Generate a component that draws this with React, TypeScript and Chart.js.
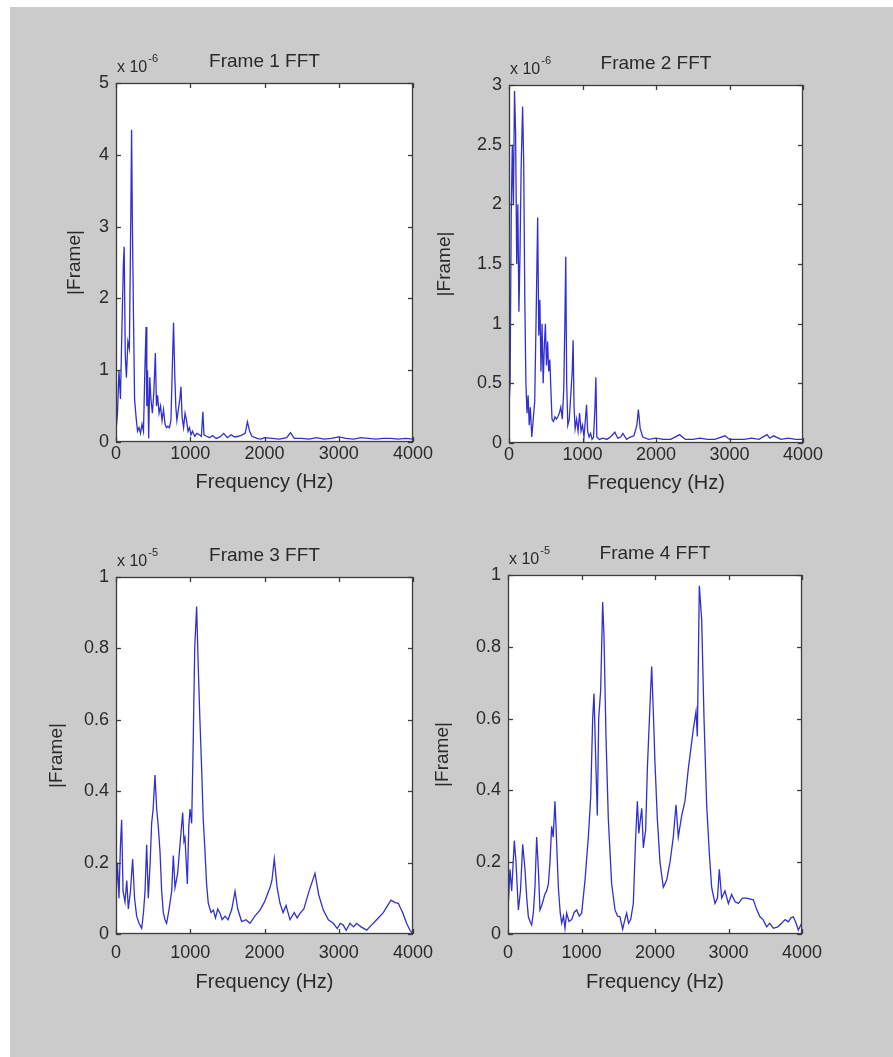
import React, { useEffect, useRef } from 'react';
import { Chart, registerables } from 'chart.js';

Chart.register(...registerables);

// ---------- data ----------
const frequencyTicks = [0, 1000, 2000, 3000, 4000];
const panelTitles = ['Frame 1 FFT', 'Frame 2 FFT', 'Frame 3 FFT', 'Frame 4 FFT'];
const panelExponents = ['-6', '-6', '-5', '-5'];
const yMaxes = [5, 3, 1, 1];
const yStepSizes = [1, 0.5, 0.2, 0.2];

const frame1Hz = [0, 20, 40, 60, 80, 100, 110, 125, 140, 160, 180, 200, 210, 220, 235, 250, 270, 290, 310, 330, 350, 370, 390, 405, 415, 425, 440, 455, 470, 490, 510, 530, 545, 560, 580, 600, 620, 640, 660, 680, 700, 720, 740, 760, 775, 790, 805, 820, 840, 860, 875, 890, 910, 930, 950, 970, 990, 1010, 1030, 1060, 1090, 1120, 1150, 1170, 1185, 1220, 1260, 1300, 1350, 1400, 1450, 1500, 1550, 1600, 1650, 1700, 1740, 1770, 1800, 1830, 1900, 1950, 2000, 2100, 2200, 2300, 2350, 2400, 2500, 2600, 2700, 2800, 2900, 3000, 3100, 3200, 3300, 3400, 3500, 3600, 3700, 3800, 3900, 4000];
const frame1Mag = [0.15, 0.4, 1.0, 0.6, 1.6, 2.5, 2.72, 1.2, 0.9, 1.4, 1.3, 3.2, 4.35, 3.1, 1.8, 0.6, 0.35, 0.15, 0.2, 0.12, 0.25, 0.15, 1.05, 1.6, 0.5, 1.0, 0.05, 0.9, 0.6, 0.4, 0.7, 1.24, 0.5, 0.65, 0.4, 0.5, 0.3, 0.45, 0.25, 0.2, 0.22, 0.2, 0.3, 1.1, 1.66, 1.0, 0.5, 0.3, 0.45, 0.6, 0.77, 0.35, 0.2, 0.4, 0.3, 0.15, 0.2, 0.1, 0.15, 0.08, 0.12, 0.1, 0.08, 0.42, 0.1, 0.08, 0.06, 0.09, 0.05, 0.07, 0.12, 0.06, 0.1, 0.07, 0.08, 0.1, 0.12, 0.28, 0.15, 0.08, 0.05, 0.04, 0.06, 0.05, 0.04, 0.06, 0.13, 0.05, 0.05, 0.04, 0.06, 0.04, 0.05, 0.07, 0.05, 0.04, 0.06, 0.05, 0.04, 0.05, 0.05, 0.04, 0.05, 0.04];

const frame2Hz = [0, 15, 30, 45, 60, 75, 90, 105, 120, 135, 150, 165, 185, 200, 215, 230, 245, 260, 275, 290, 310, 330, 350, 370, 390, 405, 420, 435, 450, 465, 480, 495, 510, 525, 540, 555, 570, 585, 605, 625, 645, 665, 685, 705, 725, 745, 760, 772, 785, 800, 820, 840, 860, 872, 885, 900, 920, 940, 960, 980, 1000, 1020, 1040, 1055, 1070, 1090, 1110, 1130, 1150, 1170, 1182, 1195, 1230, 1280, 1330, 1380, 1440, 1480, 1520, 1550, 1600, 1650, 1700, 1740, 1760, 1785, 1820, 1900, 2000, 2100, 2200, 2320, 2400, 2500, 2600, 2700, 2800, 2940, 3000, 3100, 3200, 3300, 3400, 3510, 3550, 3600, 3700, 3800, 3900, 4000];
const frame2Mag = [0.3, 0.5, 1.9, 2.5, 2.0, 2.95, 2.6, 1.5, 2.0, 1.1, 1.6, 2.3, 2.82, 2.35, 1.2, 0.5, 0.25, 0.4, 0.15, 0.3, 0.05, 0.2, 0.35, 1.1, 1.89, 0.9, 1.2, 0.6, 1.0, 0.5, 0.8, 1.0, 0.65, 0.85, 0.6, 0.7, 0.45, 0.2, 0.18, 0.22, 0.2, 0.22, 0.25, 0.3, 0.2, 0.45, 1.0, 1.56, 0.5, 0.15, 0.2, 0.4, 0.6, 0.86, 0.3, 0.12, 0.2, 0.1, 0.25, 0.1, 0.15, 0.05, 0.2, 0.32, 0.1, 0.05, 0.08, 0.03, 0.05, 0.3, 0.55, 0.05, 0.03, 0.04, 0.03, 0.05, 0.09, 0.04, 0.05, 0.08, 0.03, 0.05, 0.06, 0.15, 0.28, 0.12, 0.05, 0.03, 0.04, 0.03, 0.03, 0.07, 0.03, 0.03, 0.04, 0.03, 0.03, 0.06, 0.03, 0.03, 0.03, 0.04, 0.03, 0.07, 0.04, 0.06, 0.03, 0.04, 0.03, 0.03];

const frame3Hz = [0, 20, 40, 60, 76, 95, 121, 145, 166, 195, 224, 250, 278, 310, 346, 370, 391, 413, 435, 460, 480, 500, 525, 548, 570, 593, 615, 637, 660, 682, 715, 750, 772, 795, 830, 862, 898, 915, 929, 961, 980, 997, 1019, 1041, 1060, 1086, 1109, 1130, 1154, 1175, 1199, 1220, 1243, 1280, 1311, 1340, 1370, 1401, 1430, 1468, 1510, 1560, 1603, 1640, 1692, 1750, 1805, 1870, 1939, 2000, 2074, 2100, 2132, 2170, 2209, 2250, 2290, 2343, 2400, 2440, 2478, 2530, 2600, 2680, 2730, 2792, 2860, 2927, 2980, 3020, 3061, 3100, 3150, 3200, 3241, 3300, 3376, 3440, 3510, 3600, 3660, 3703, 3760, 3802, 3860, 3914, 3960, 4000];
const frame3Mag = [0.1, 0.2, 0.1, 0.25, 0.32, 0.12, 0.09, 0.15, 0.07, 0.12, 0.21, 0.1, 0.05, 0.03, 0.016, 0.06, 0.12, 0.25, 0.1, 0.2, 0.31, 0.35, 0.445, 0.35, 0.3, 0.23, 0.12, 0.06, 0.04, 0.03, 0.07, 0.12, 0.22, 0.13, 0.17, 0.25, 0.34, 0.26, 0.27, 0.14, 0.3, 0.35, 0.31, 0.55, 0.8, 0.917, 0.74, 0.6, 0.46, 0.32, 0.23, 0.14, 0.086, 0.06, 0.067, 0.045, 0.07, 0.058, 0.04, 0.05, 0.04, 0.07, 0.12, 0.07, 0.035, 0.04, 0.03, 0.05, 0.067, 0.09, 0.13, 0.15, 0.21, 0.13, 0.086, 0.06, 0.08, 0.04, 0.06, 0.045, 0.058, 0.07, 0.12, 0.17, 0.11, 0.067, 0.04, 0.03, 0.015, 0.03, 0.025, 0.01, 0.03, 0.02, 0.03, 0.02, 0.011, 0.025, 0.04, 0.06, 0.08, 0.095, 0.088, 0.086, 0.06, 0.03, 0.01, 0.0];

const frame4Hz = [0, 5, 27, 50, 86, 109, 141, 170, 200, 231, 255, 277, 300, 322, 345, 367, 390, 413, 435, 460, 481, 500, 526, 550, 571, 594, 615, 639, 653, 685, 710, 730, 755, 775, 798, 830, 866, 900, 934, 970, 1002, 1048, 1093, 1125, 1152, 1170, 1193, 1215, 1234, 1261, 1288, 1306, 1333, 1365, 1410, 1456, 1490, 1524, 1560, 1590, 1614, 1640, 1669, 1705, 1737, 1760, 1780, 1796, 1820, 1841, 1873, 1896, 1932, 1955, 1977, 2000, 2032, 2068, 2113, 2159, 2204, 2249, 2286, 2317, 2363, 2408, 2453, 2490, 2521, 2558, 2576, 2603, 2635, 2667, 2703, 2739, 2771, 2816, 2850, 2875, 2907, 2952, 2998, 3043, 3090, 3134, 3190, 3247, 3338, 3380, 3428, 3470, 3519, 3560, 3610, 3670, 3723, 3770, 3814, 3850, 3882, 3920, 3950, 3995];
const frame4Mag = [0.08, 0.085, 0.18, 0.12, 0.26, 0.2, 0.067, 0.12, 0.25, 0.18, 0.1, 0.048, 0.035, 0.025, 0.06, 0.13, 0.27, 0.18, 0.067, 0.08, 0.095, 0.11, 0.12, 0.14, 0.2, 0.3, 0.27, 0.37, 0.3, 0.13, 0.06, 0.03, 0.05, 0.016, 0.058, 0.035, 0.04, 0.06, 0.067, 0.05, 0.058, 0.15, 0.27, 0.38, 0.6, 0.67, 0.49, 0.33, 0.6, 0.68, 0.925, 0.83, 0.55, 0.32, 0.14, 0.067, 0.05, 0.048, 0.013, 0.04, 0.058, 0.03, 0.04, 0.085, 0.27, 0.37, 0.28, 0.31, 0.35, 0.24, 0.29, 0.46, 0.64, 0.745, 0.62, 0.475, 0.32, 0.2, 0.13, 0.15, 0.2, 0.27, 0.36, 0.27, 0.33, 0.37, 0.46, 0.52, 0.57, 0.62, 0.55, 0.97, 0.875, 0.6, 0.36, 0.225, 0.13, 0.085, 0.1, 0.18, 0.1, 0.12, 0.085, 0.11, 0.09, 0.085, 0.1, 0.1, 0.095, 0.07, 0.048, 0.04, 0.02, 0.03, 0.016, 0.02, 0.03, 0.04, 0.034, 0.045, 0.048, 0.03, 0.011, 0.03];

const frameHz = [frame1Hz, frame2Hz, frame3Hz, frame4Hz];
const frameMag = [frame1Mag, frame2Mag, frame3Mag, frame4Mag];

// ---------- layout (page pixels of each plot box) ----------
const boxes = [
  { L: 116, T: 83, R: 413, B: 442, ylabelGap: 41, xTickPad: 1, xTitlePad: 18 },
  { L: 509, T: 85, R: 803, B: 443, ylabelGap: 64, xTickPad: 1, xTitlePad: 18 },
  { L: 116, T: 577, R: 413, B: 934, ylabelGap: 59, xTickPad: 8, xTitlePad: 10 },
  { L: 508, T: 575, R: 802, B: 934, ylabelGap: 65, xTickPad: 8, xTitlePad: 10 },
];
const PAD_LEFT = 100;
const PAD_TOP = 50;
const PAD_RIGHT = 45;
const PAD_BOTTOM = 70;
const FONT = '"Liberation Sans", Arial, Helvetica, sans-serif';
const TEXT = '#2a2a2a';
const AXIS = '#3c3c3c';

const matlabAxes = {
  id: 'matlabAxes',
  beforeDatasetsDraw(chart: any) {
    const { ctx, chartArea: a } = chart;
    ctx.save();
    ctx.fillStyle = '#ffffff';
    ctx.fillRect(a.left, a.top, a.right - a.left, a.bottom - a.top);
    ctx.restore();
  },
  afterDatasetsDraw(chart: any, _args: any, opts: any) {
    const { ctx, chartArea: a, scales } = chart;
    const len = 5;
    ctx.save();
    ctx.strokeStyle = AXIS;
    ctx.lineWidth = 1.3;
    const line = (x1: number, y1: number, x2: number, y2: number) => {
      ctx.beginPath();
      ctx.moveTo(x1, y1);
      ctx.lineTo(x2, y2);
      ctx.stroke();
    };
    scales.x.ticks.forEach((t: any) => {
      const p = Math.round(scales.x.getPixelForValue(t.value)) + 0.5;
      line(p, a.bottom, p, a.bottom - len);
      line(p, a.top, p, a.top + len);
    });
    scales.y.ticks.forEach((t: any) => {
      const p = Math.round(scales.y.getPixelForValue(t.value)) + 0.5;
      line(a.left, p, a.left + len, p);
      line(a.right, p, a.right - len, p);
    });
    ctx.strokeRect(a.left + 0.5, a.top + 0.5, a.right - a.left - 1, a.bottom - a.top - 1);

    ctx.fillStyle = TEXT;
    ctx.font = `19px ${FONT}`;
    ctx.textAlign = 'center';
    ctx.textBaseline = 'middle';
    ctx.fillText(opts.title, (a.left + a.right) / 2, a.top - 21);

    ctx.textAlign = 'left';
    ctx.textBaseline = 'alphabetic';
    ctx.font = `16px ${FONT}`;
    ctx.fillText('x 10', a.left + 1, a.top - 11);
    const w = ctx.measureText('x 10').width;
    ctx.font = `11px ${FONT}`;
    ctx.fillText(opts.exponent, a.left + 2 + w, a.top - 21);
    ctx.restore();
  },
};

const fmt = (v: number | string) => String(Number(Number(v).toFixed(2)));

function Panel({ index }: { index: number }) {
  const ref = useRef<HTMLCanvasElement | null>(null);
  const b = boxes[index];
  const width = b.R - b.L + PAD_LEFT + PAD_RIGHT;
  const height = b.B - b.T + PAD_TOP + PAD_BOTTOM;

  useEffect(() => {
    if (!ref.current) return;
    const points = frameHz[index].map((x, i) => ({ x, y: frameMag[index][i] }));
    const chart = new Chart(ref.current, {
      type: 'line',
      data: {
        datasets: [
          {
            data: points,
            borderColor: 'rgb(48, 48, 208)',
            borderWidth: 1.3,
            pointRadius: 0,
            tension: 0,
            fill: false,
          },
        ],
      },
      options: {
        animation: false,
        responsive: false,
        devicePixelRatio: 1,
        layout: { padding: { left: 0, top: PAD_TOP, right: PAD_RIGHT, bottom: 0 } },
        plugins: {
          legend: { display: false },
          tooltip: { enabled: false },
          matlabAxes: { title: panelTitles[index], exponent: panelExponents[index] },
        } as any,
        scales: {
          x: {
            type: 'linear',
            min: frequencyTicks[0],
            max: frequencyTicks[frequencyTicks.length - 1],
            afterBuildTicks: (s: any) => {
              s.ticks = frequencyTicks.map((v) => ({ value: v }));
            },
            afterFit: (s: any) => {
              s.height = PAD_BOTTOM;
            },
            ticks: {
              autoSkip: false,
              maxRotation: 0,
              padding: b.xTickPad,
              color: TEXT,
              font: { family: FONT, size: 18 },
              callback: (v: any) => fmt(v),
            },
            grid: { display: false, drawTicks: false },
            border: { display: false },
            title: {
              display: true,
              text: 'Frequency (Hz)',
              color: TEXT,
              font: { family: FONT, size: 20 },
              padding: { top: 0, bottom: b.xTitlePad },
            },
          },
          y: {
            type: 'linear',
            min: 0,
            max: yMaxes[index],
            afterFit: (s: any) => {
              s.width = PAD_LEFT;
            },
            ticks: {
              stepSize: yStepSizes[index],
              autoSkip: false,
              padding: 7,
              color: TEXT,
              font: { family: FONT, size: 18 },
              callback: (v: any) => fmt(v),
            },
            grid: { display: false, drawTicks: false },
            border: { display: false },
            title: {
              display: true,
              text: '|Frame|',
              color: TEXT,
              font: { family: FONT, size: 19 },
              padding: { top: PAD_LEFT - b.ylabelGap - 12, bottom: 0 },
            },
          },
        },
      },
      plugins: [matlabAxes as any],
    });
    return () => chart.destroy();
  }, [index]);

  return (
    <canvas
      ref={ref}
      width={width}
      height={height}
      style={{
        position: 'absolute',
        left: b.L - PAD_LEFT,
        top: b.T - PAD_TOP,
        width,
        height,
      }}
    />
  );
}

export default function App() {
  return (
    <div
      style={{
        position: 'absolute',
        left: 0,
        top: 0,
        width: 893,
        height: 1057,
        background: '#ffffff',
        overflow: 'hidden',
      }}
    >
      <div
        style={{
          position: 'absolute',
          left: 10,
          top: 7,
          width: 883,
          height: 1050,
          background: '#cbcbcb',
        }}
      />
      {[0, 1, 2, 3].map((i) => (
        <Panel key={i} index={i} />
      ))}
    </div>
  );
}
